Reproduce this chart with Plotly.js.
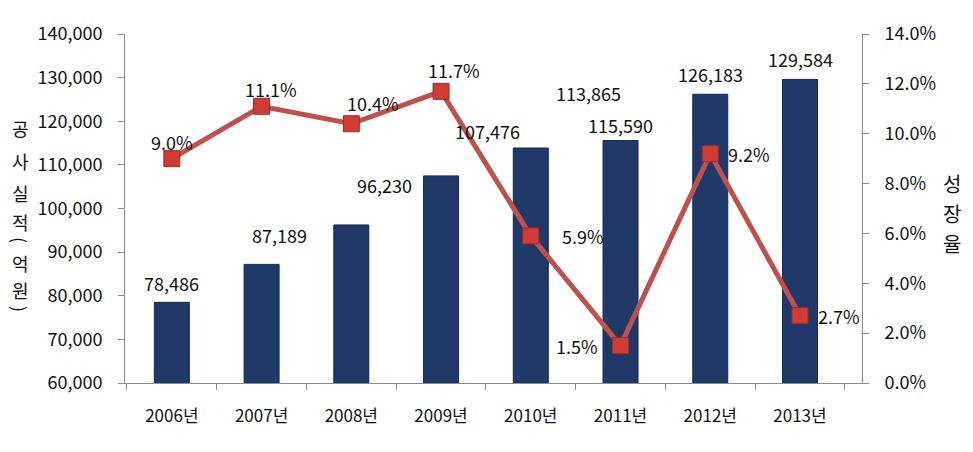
<!DOCTYPE html>
<html>
<head>
<meta charset="utf-8">
<script src="https://cdn.plot.ly/plotly-3.0.1.min.js"></script>
<style>html,body{margin:0;padding:0;background:#fff}#chart{width:973px;height:452px}</style>
</head>
<body>
<div id="chart"></div>
<script>
const categories = ["2006년","2007년","2008년","2009년","2010년","2011년","2012년","2013년"];
const performance = [78486, 87189, 96230, 107476, 113865, 115590, 126183, 129584];
const growth = [9.0, 11.1, 10.4, 11.7, 5.9, 1.5, 9.2, 2.7];
const leftTicks = [60000,70000,80000,90000,100000,110000,120000,130000,140000];
const rightTicks = [0,2,4,6,8,10,12,14];
const leftTitle = ["공","사","실","적","(","억","원",")"];
const rightTitle = ["성","장","율"];

// label offsets in pixels (styling only)
const barLabelShift = [[0,19],[18,29],[33,40],[46,45],[58,55],[0,15],[0,20],[0,20]];
const lineLabelShift = [[0,17],[9,17],[22,21],[13,21],[52,0],[-44,0],[39,0],[39,0]];
// pixel rows / angles of stacked title characters (layout only)
const leftTitleRows = [128,161,193,222,240,263,290,309];
const leftTitleAngles = [0,0,0,0,90,0,0,90];
const rightTitleRows = [183,213,243];

const FONT = '"Noto Sans CJK KR", "Noto Sans", sans-serif';
const fmt = v => v.toLocaleString('en-US');
const plotTop = 34, plotH = 349;
const py = r => (plotTop + plotH - r) / plotH;

const annotations = [];
performance.forEach((v,i)=>{
  annotations.push({x: categories[i], y: v, xref:'x', yref:'y', text: fmt(v), showarrow:false,
    xshift: barLabelShift[i][0], yshift: barLabelShift[i][1], font:{size:18, color:'#111', family: FONT}});
});
growth.forEach((v,i)=>{
  annotations.push({x: categories[i], y: v, xref:'x', yref:'y2', text: v.toFixed(1)+'%', showarrow:false,
    xshift: lineLabelShift[i][0], yshift: lineLabelShift[i][1], font:{size:18, color:'#111', family: FONT}});
});
leftTitle.forEach((c,i)=>{
  annotations.push({xref:'paper', yref:'paper', x:(20-125)/737, y: py(leftTitleRows[i]), xanchor:'center', yanchor:'middle',
    showarrow:false, text:c, textangle: leftTitleAngles[i], borderpad:0, font:{size:18, color:'#111', family: FONT}});
});
rightTitle.forEach((c,i)=>{
  annotations.push({xref:'paper', yref:'paper', x:(952-125)/737, y: py(rightTitleRows[i]), xanchor:'center', yanchor:'middle',
    showarrow:false, text:c, font:{size:20, color:'#111', family: FONT}});
});

const data = [
  {type:'bar', x: categories, y: performance, yaxis:'y', width:0.39,
   marker:{color:'#1f3a68', line:{color:'#132950', width:1}}, hoverinfo:'skip'},
  {type:'scatter', mode:'lines+markers', x: categories, y: growth, yaxis:'y2',
   line:{color:'#c0504d', width:5},
   marker:{symbol:'square', size:16, color:'#d23b35', line:{color:'#9e2b27', width:1}}, hoverinfo:'skip'}
];

const layout = {
  width: 973, height: 452,
  margin: {l:125, r:111, t:34, b:69},
  paper_bgcolor:'#fff', plot_bgcolor:'#fff',
  showlegend:false,
  font:{family: FONT, color:'#111'},
  xaxis:{type:'category', showline:true, linecolor:'#8c8c8c', linewidth:1, showgrid:false,
    ticks:'outside', ticklen:6, tickcolor:'#8c8c8c', tickson:'boundaries', ticklabelstandoff:18,
    tickfont:{size:17, color:'#111', family: FONT}, zeroline:false},
  yaxis:{range:[60000,140000], tickvals: leftTicks, ticktext: leftTicks.map(fmt),
    showline:true, linecolor:'#8c8c8c', linewidth:1, showgrid:false, zeroline:false, ticklabelstandoff:12,
    ticks:'outside', ticklen:6, tickcolor:'#8c8c8c', tickfont:{size:18, color:'#111', family: FONT}},
  yaxis2:{range:[0,14], overlaying:'y', side:'right', tickvals: rightTicks, ticktext: rightTicks.map(v=>v.toFixed(1)+'%'),
    showline:true, linecolor:'#8c8c8c', linewidth:1, showgrid:false, zeroline:false, ticklabelstandoff:12,
    ticks:'outside', ticklen:6, tickcolor:'#8c8c8c', tickfont:{size:18, color:'#111', family: FONT}},
  annotations: annotations
};

Plotly.newPlot('chart', data, layout, {displayModeBar:false, staticPlot:true});
</script>
</body>
</html>
